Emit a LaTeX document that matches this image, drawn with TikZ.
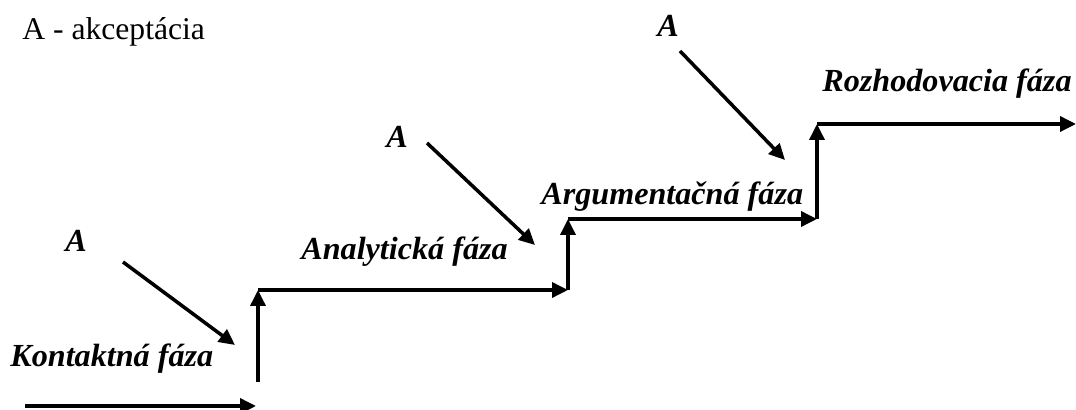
\documentclass[tikz,border=0pt]{standalone}
\usepackage{fontspec}
\setmainfont{Liberation Serif}
\usetikzlibrary{arrows.meta}

\tikzset{
    stair/.style={line width=2pt, -{Triangle[length=0.32cm,width=0.3cm]}},
    phase/.style={anchor=base west, inner sep=0pt, font=\fontsize{18.3}{20}\selectfont\bfseries\itshape},
}

\begin{document}
\begin{tikzpicture}
                    \useasboundingbox (0,0) rectangle (21.52,8.2);
                    \node[anchor=base west, inner sep=0pt, font=\fontsize{18}{20}\selectfont] (legend) at (0.44, 7.4) {A - akceptácia};
                    \node[phase] (P1) at (0.2, 0.86) {Kontaktná fáza};
                    \node[phase] (P2) at (6.02, 3.0) {Analytická fáza};
                    \node[phase] (P3) at (10.82, 4.1) {Argumentačná fáza};
                    \node[phase] (P4) at (16.44, 6.36) {Rozhodovacia fáza};
                    \node[phase] (A1) at (1.3, 3.16) {A};
                    \node[phase] (A2) at (7.72, 5.24) {A};
                    \node[phase] (A3) at (13.14, 7.46) {A};
                    \coordinate (s0) at (0.5, 0.08);
                    \coordinate (s1) at (5.12, 0.08);
                    \coordinate (v1) at (5.16, 0.56);
                    \coordinate (c1) at (5.16, 2.4);
                    \coordinate (c2) at (11.36, 2.4);
                    \coordinate (c3) at (11.36, 3.82);
                    \coordinate (c4) at (16.34, 3.82);
                    \coordinate (c5) at (16.34, 5.72);
                    \coordinate (c6) at (21.52, 5.72);
                    \coordinate (d1) at (2.46, 2.96);
                    \coordinate (e1) at (4.7, 1.3);
                    \coordinate (d2) at (8.54, 5.34);
                    \coordinate (e2) at (10.7, 3.3);
                    \coordinate (d3) at (13.6, 7.18);
                    \coordinate (e3) at (15.7, 5.0);
                    \draw[stair] (s0) -- (s1);
                    \draw[stair] (v1) -- (c1);
                    \draw[stair] (c1) -- (c2);
                    \draw[stair] (c2) -- (c3);
                    \draw[stair] (c3) -- (c4);
                    \draw[stair] (c4) -- (c5);
                    \draw[stair] (c5) -- (c6);
                    \draw[stair] (d1) -- (e1);
                    \draw[stair] (d2) -- (e2);
                    \draw[stair] (d3) -- (e3);
                \end{tikzpicture}
\end{document}
